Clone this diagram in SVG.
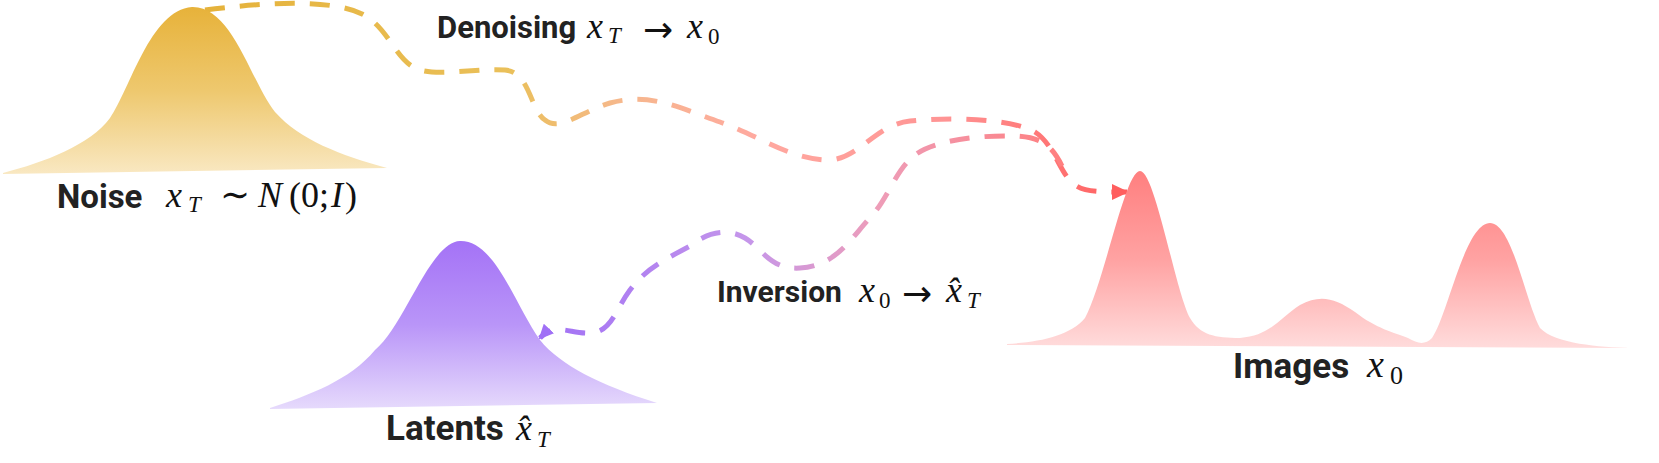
<svg xmlns="http://www.w3.org/2000/svg" width="1659" height="463" viewBox="0 0 1659 463">
<style>
.lbl{font-family:Roboto,"Liberation Sans",sans-serif;font-weight:700;fill:#222}
.m{font-family:"Liberation Serif","DejaVu Serif",serif;fill:#111}
.mi{font-style:italic}
.ar{font-family:"DejaVu Sans",sans-serif;font-size:36px}
.dash{fill:none;stroke-width:5;stroke-dasharray:20 15}
</style>
<defs>
<linearGradient id="gNoise" gradientUnits="userSpaceOnUse" x1="0" y1="7" x2="0" y2="174">
<stop offset="0" stop-color="#E7B23A"/><stop offset="0.5" stop-color="#EEC86E"/><stop offset="1" stop-color="#F9E8C2"/>
</linearGradient>
<linearGradient id="gLat" gradientUnits="userSpaceOnUse" x1="0" y1="240" x2="0" y2="409">
<stop offset="0" stop-color="#A472F6"/><stop offset="0.5" stop-color="#B995F8"/><stop offset="1" stop-color="#E6DAFC"/>
</linearGradient>
<linearGradient id="gImg" gradientUnits="userSpaceOnUse" x1="0" y1="170" x2="0" y2="348">
<stop offset="0" stop-color="#FF7F7F"/><stop offset="0.5" stop-color="#FFA2A2"/><stop offset="1" stop-color="#FFDCDC"/>
</linearGradient>
<linearGradient id="gDen" gradientUnits="userSpaceOnUse" x1="205" y1="0" x2="1128" y2="0">
<stop offset="0" stop-color="#E5B23A"/><stop offset="0.33" stop-color="#EAC05A"/><stop offset="0.45" stop-color="#F6B88C"/><stop offset="0.6" stop-color="#FFA9A0"/><stop offset="0.8" stop-color="#FF9494"/><stop offset="1" stop-color="#FF5E5E"/>
</linearGradient>
<linearGradient id="gInv" gradientUnits="userSpaceOnUse" x1="1062" y1="0" x2="538" y2="0">
<stop offset="0" stop-color="#FF7F7F"/><stop offset="0.35" stop-color="#EE9DB8"/><stop offset="0.6" stop-color="#C596EA"/><stop offset="1" stop-color="#A070F6"/>
</linearGradient>
<marker id="arrR" markerUnits="userSpaceOnUse" markerWidth="18" markerHeight="16" refX="15" refY="8" orient="auto">
<path d="M0,0 L17,8 L0,16 z" fill="#FF5E5E"/>
</marker>
<marker id="arrP" markerUnits="userSpaceOnUse" markerWidth="16" markerHeight="14" refX="13" refY="7" orient="auto">
<path d="M0,0 L15,7 L0,14 z" fill="#A070F6"/>
</marker>
</defs>

<g id="connectors">
<path id="denoising" class="dash" stroke="url(#gDen)" marker-end="url(#arrR)" d="M205,10 C260,3 330,-2 362,14 C390,28 395,62 420,70 C440,76 480,68 505,70 C530,72 530,110 545,120 C560,132 580,112 610,103 C650,92 680,108 720,122 C760,136 790,160 830,160 C860,158 875,125 910,121 C950,117 1010,118 1035,132 C1055,145 1060,175 1075,185 C1085,192 1100,192 1127,192"/>
<path id="inversion" class="dash" stroke="url(#gInv)" marker-end="url(#arrP)" d="M1062,166 C1052,146 1042,137 1015,136 C980,135 935,140 915,155 C895,170 888,200 868,220 C850,240 835,266 800,268 C770,270 762,248 745,238 C730,229 710,230 690,246 C660,262 645,270 630,290 C615,310 612,332 590,333 C570,334 555,322 540,338"/>
<g id="label-denoising">
<text class="lbl" x="437" y="38" font-size="31">Denoising</text>
<text class="m" font-size="36"><tspan class="mi" x="587" y="38">x</tspan><tspan class="mi" x="608" y="43" font-size="23">T</tspan><tspan class="ar" x="643" y="42">→</tspan><tspan class="mi" x="687" y="38">x</tspan><tspan x="708" y="44" font-size="23">0</tspan></text>
</g>
<g id="label-inversion">
<text class="lbl" x="717" y="302" font-size="30">Inversion</text>
<text class="m" font-size="36"><tspan class="mi" x="859" y="302">x</tspan><tspan x="879" y="308" font-size="23">0</tspan><tspan class="ar" x="902" y="306">→</tspan><tspan class="mi" x="946" y="302">x̂</tspan><tspan class="mi" x="967" y="308" font-size="23">T</tspan></text>
</g>
</g>

<g id="noise">
<path fill="url(#gNoise)" d="M3,173 C45,162 90,145 110,118 C130,90 150,10 192,7 C232,6 250,80 275,112 C300,140 340,155 387,168 L3,174 Z"/>
<text class="lbl" x="57" y="208" font-size="33">Noise</text>
<text class="m" font-size="36"><tspan class="mi" x="166" y="207">x</tspan><tspan class="mi" x="188" y="212" font-size="23">T</tspan><tspan x="220" y="207">∼</tspan><tspan class="mi" x="258" y="207">N</tspan><tspan x="289" y="207">(</tspan><tspan x="301" y="207">0</tspan><tspan x="319" y="207">;</tspan><tspan class="mi" x="331" y="207">I</tspan><tspan x="345" y="207">)</tspan></text>
</g>

<g id="latents">
<path fill="url(#gLat)" d="M270,408 C310,395 350,380 375,350 C405,325 430,242 460,241 C495,240 515,305 540,340 C560,365 600,385 657,403 L270,409 Z"/>
<text class="lbl" x="386" y="440" font-size="35">Latents</text>
<text class="m" font-size="36"><tspan class="mi" x="516" y="440">x̂</tspan><tspan class="mi" x="537" y="447" font-size="23">T</tspan></text>
</g>

<g id="images">
<path fill="url(#gImg)" d="M1007,344 C1040,342 1070,336 1085,318 C1105,280 1125,171 1140,171 C1155,171 1175,290 1190,318 C1200,335 1215,338 1240,338 C1270,336 1280,318 1300,305 C1320,294 1335,298 1355,312 C1375,328 1395,333 1408,338 C1418,344 1425,345 1432,338 C1448,315 1465,223 1490,223 C1512,223 1525,300 1540,328 C1555,344 1600,347 1630,348 L1007,345 Z"/>
<text class="lbl" x="1233" y="378" font-size="35">Images</text>
<text class="m" font-size="38"><tspan class="mi" x="1367" y="377">x</tspan><tspan x="1390" y="384" font-size="26">0</tspan></text>
</g>
</svg>
